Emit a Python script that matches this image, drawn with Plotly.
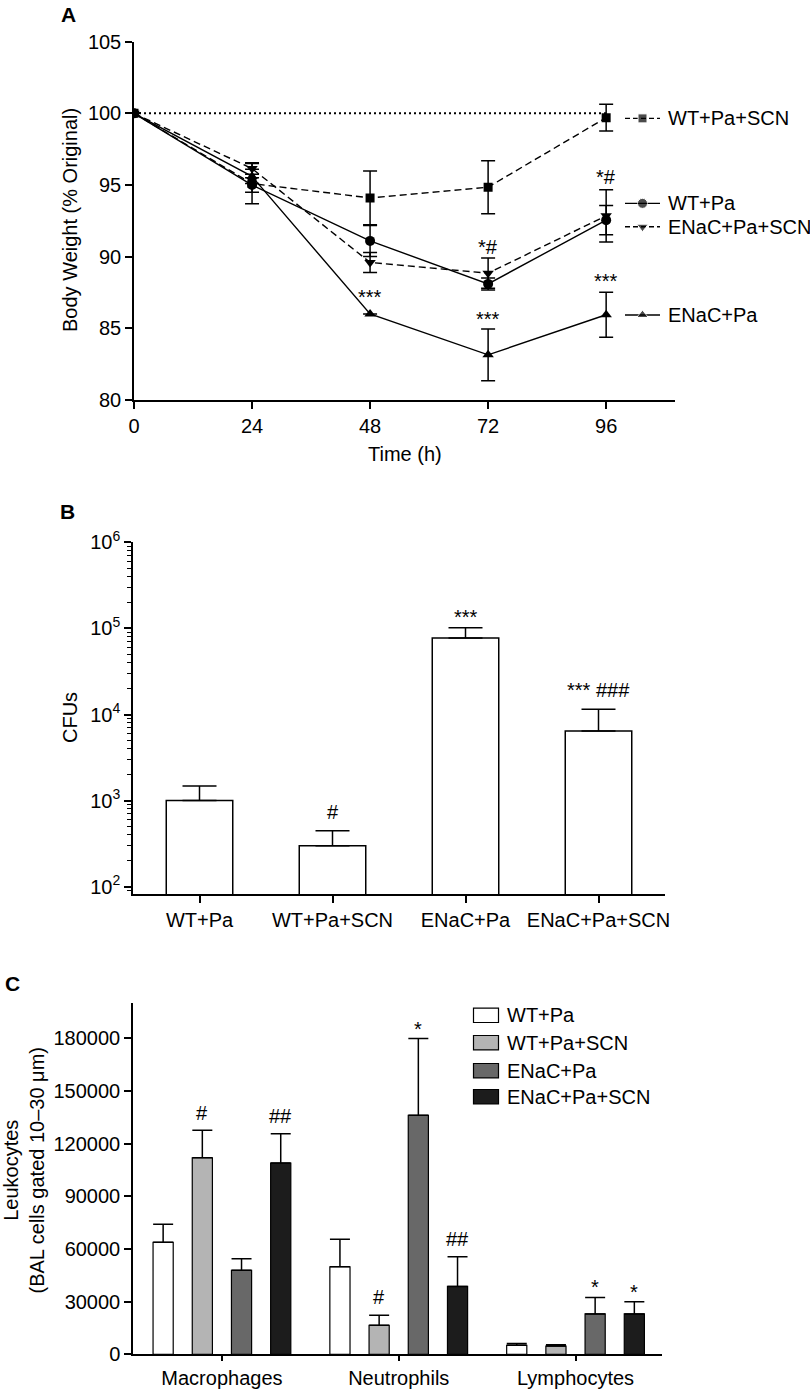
import plotly.graph_objects as go

W, H = 810, 1390
FONT = "Liberation Sans, Arial, Helvetica, sans-serif"
FS = 20

# ---------------- Panel A data ----------------
time_h = [0, 24, 48, 72, 96]
wt_pa_scn = [100, 95.1, 94.1, 94.85, 99.7]
wt_pa_scn_err = [0, 1.4, 1.87, 1.85, 0.93]
wt_pa = [100, 95.0, 91.1, 88.1, 92.55]
wt_pa_err = [0, 0.5, 1.08, 0.42, 1.02]
enac_pa_scn = [100, 96.15, 89.6, 88.85, 92.85]
enac_pa_scn_err = [0, 0.4, 0.7, 1.05, 1.82]
enac_pa = [100, 95.6, 86.0, 83.15, 85.95]
enac_pa_err = [0, 0.5, 0, 1.8, 1.57]
baseline_x = [0, 96]
baseline_y = [100, 100]
a_ticks = [0, 24, 48, 72, 96]
a_yticks = [80, 85, 90, 95, 100, 105]
a_sig_x = [48, 72, 72, 96, 96]
a_sig_y = [87.44, 90.69, 85.93, 95.58, 88.6]
a_sig_text = ["***", "*#", "***", "*#", "***"]
a_names = ["WT+Pa+SCN", "WT+Pa", "ENaC+Pa+SCN", "ENaC+Pa"]
a_key_y = [99.65, 93.72, 92.09, 85.93]

# ---------------- Panel B data ----------------
b_groups = ["WT+Pa", "WT+Pa+SCN", "ENaC+Pa", "ENaC+Pa+SCN"]
b_cfu = [1000, 299, 77300, 6420]
b_cfu_top = [1480, 447, 101900, 11480]
b_sig = ["", "#", "***", "*** ###"]
b_sig_log = [None, 2.871, 5.175, 4.284]

# ---------------- Panel C data ----------------
c_cells = ["Macrophages", "Neutrophils", "Lymphocytes"]
c_series = ["WT+Pa", "WT+Pa+SCN", "ENaC+Pa", "ENaC+Pa+SCN"]
c_vals = [
    [63800, 49900, 5100],
    [112000, 16500, 4700],
    [47900, 136200, 23000],
    [109000, 38700, 23000],
]
c_err = [
    [10300, 15600, 1000],
    [15600, 5700, 800],
    [6600, 43800, 9300],
    [16700, 16900, 7000],
]
c_colors = ["#ffffff", "#b4b4b4", "#686868", "#1c1c1c"]
c_sig = [
    ["", "", ""],
    ["#", "#", ""],
    ["", "*", "*"],
    ["##", "##", "*"],
]
c_sig_y = [
    [None, None, None],
    [137300, 32500, None],
    [None, 187600, 40400],
    [135700, 65500, 37600],
]
c_yticks = [0, 30000, 60000, 90000, 120000, 150000, 180000]


def px_x(p):
    return p / W


def px_y(p):
    return 1 - p / H


fig = go.Figure()

# ---- Panel A traces ----
fig.add_trace(go.Scatter(x=baseline_x, y=baseline_y, mode="lines",
                         line=dict(color="black", width=2, dash="2px,3px"),
                         xaxis="x", yaxis="y", showlegend=False, hoverinfo="skip"))

DASH = "7px,4px"
a_series = [
    (wt_pa_scn, wt_pa_scn_err, "square", 9, DASH),
    (wt_pa, wt_pa_err, "circle", 10, "solid"),
    (enac_pa_scn, enac_pa_scn_err, "triangle-down", 10, DASH),
    (enac_pa, enac_pa_err, "triangle-up", 10, "solid"),
]
for (vals, errs, sym, sz, dash), name in zip(a_series, a_names):
    fig.add_trace(go.Scatter(
        x=time_h, y=vals, mode="lines+markers", name=name,
        line=dict(color="black", width=1.4, dash=dash),
        marker=dict(symbol=sym, size=sz, color="black"),
        error_y=dict(type="data", array=errs, visible=True, color="black",
                     thickness=1.5, width=7),
        xaxis="x", yaxis="y", showlegend=False))

# legend keys for panel A (overlay axis in pixel units)
key_x0, key_x1 = 625, 660
for (vals, errs, sym, sz, dash), ky in zip(a_series, a_key_y):
    fig.add_trace(go.Scatter(
        x=[key_x0, (key_x0 + key_x1) / 2, key_x1], y=[ky, ky, ky],
        mode="lines+markers",
        line=dict(color="black", width=1.4, dash=("5px,3px" if dash != "solid" else "solid")),
        marker=dict(symbol=sym, size=[0, sz, 0], color="black"),
        xaxis="x4", yaxis="y", showlegend=False, hoverinfo="skip"))

# ---- Panel B ----
fig.add_trace(go.Bar(
    x=b_groups, y=b_cfu, width=0.5,
    marker=dict(color="white", line=dict(color="black", width=1.5)),
    error_y=dict(type="data", symmetric=False,
                 array=[t - v for t, v in zip(b_cfu_top, b_cfu)],
                 arrayminus=[0] * len(b_cfu), color="black", thickness=1.5, width=17),
    xaxis="x2", yaxis="y2", showlegend=False))

# ---- Panel C ----
slot = 0.2217
bw = 0.114
for i, (name, vals, errs, col) in enumerate(zip(c_series, c_vals, c_err, c_colors)):
    off = (i - 1.5) * slot - bw / 2
    fig.add_trace(go.Bar(
        x=c_cells, y=vals, width=bw, offset=off, name=name,
        marker=dict(color=col, line=dict(color="black", width=1.2)),
        error_y=dict(type="data", symmetric=False, array=errs,
                     arrayminus=[0] * len(vals), color="black", thickness=1.5, width=10),
        xaxis="x3", yaxis="y3", showlegend=False))

ann = []
shapes = []


def txt(x, y, text, xref="paper", yref="paper", size=FS, xanchor="center", yanchor="middle", **kw):
    d = dict(x=x, y=y, xref=xref, yref=yref, text=text, showarrow=False,
             xanchor=xanchor, yanchor=yanchor,
             font=dict(family=FONT, size=size, color="black"))
    d.update(kw)
    ann.append(d)


# panel letters
txt(px_x(68), px_y(14.5), "<b>A</b>", size=21)
txt(px_x(67), px_y(511), "<b>B</b>", size=21)
txt(px_x(12), px_y(983.5), "<b>C</b>", size=21)

# axis titles
txt(px_x(70), px_y(220), "Body Weight (% Original)", textangle=-90)
txt(px_x(404.5), px_y(454), "Time (h)")
txt(px_x(70), px_y(718), "CFUs", textangle=-90)
txt(px_x(23.5), px_y(1171), "Leukocytes<br>(BAL cells gated 10\u201330 \u03bcm)", textangle=-90)

# panel A significance
for x, y, t in zip(a_sig_x, a_sig_y, a_sig_text):
    txt(x, y, t, xref="x", yref="y", yshift=(-4 if t == "***" else 0))

# panel A legend labels
for name, ky in zip(a_names, a_key_y):
    txt(px_x(666), ky, name, yref="y", xanchor="left")

# panel B significance
for i, (t, ly) in enumerate(zip(b_sig, b_sig_log)):
    if t:
        txt(i, ly, t, xref="x2", yref="y2", yshift=(-4 if t == "***" else 0))

# panel C significance
for i in range(4):
    for g in range(3):
        t = c_sig[i][g]
        if t:
            txt(g + (i - 1.5) * slot, c_sig_y[i][g], t, xref="x3", yref="y3",
                yshift=(-4 if t == "*" else 0))

# panel C legend
leg_rows = [1015.3, 1042.7, 1070.7, 1096.7]
for name, col, ry in zip(c_series, c_colors, leg_rows):
    shapes.append(dict(type="rect", xref="paper", yref="paper",
                       x0=px_x(473.5), x1=px_x(498.5), y0=px_y(ry + 7.2), y1=px_y(ry - 7.2),
                       fillcolor=col, line=dict(color="black", width=1.2)))
    txt(px_x(505), px_y(ry), name, xanchor="left")

axis_common = dict(showline=True, linecolor="black", linewidth=1.5, showgrid=False,
                   zeroline=False, ticks="outside", tickcolor="black", tickwidth=1.5,
                   ticklen=7, tickfont=dict(family=FONT, size=FS, color="black"))
c_xaxis = dict(axis_common)
c_xaxis["ticklen"] = 5

fig.update_layout(
    width=W, height=H, margin=dict(l=0, r=0, t=0, b=0, autoexpand=False),
    paper_bgcolor="white", plot_bgcolor="rgba(0,0,0,0)",
    font=dict(family=FONT, size=FS, color="black"),
    showlegend=False,
    xaxis=dict(domain=[px_x(134), px_x(675)], range=[0, 110], anchor="y",
               tickvals=a_ticks, **axis_common),
    yaxis=dict(domain=[px_y(400), px_y(41.7)], range=[80, 105], anchor="x",
               tickvals=a_yticks, **axis_common),
    xaxis4=dict(overlaying="x", range=[134, 675], visible=False, anchor="y"),
    xaxis2=dict(domain=[px_x(133), px_x(665)], range=[-0.5, 3.5], anchor="y2",
                type="category", **axis_common),
    yaxis2=dict(domain=[px_y(894.3), px_y(542.3)], type="log", range=[1.912, 6], anchor="x2",
                tickvals=[1e2, 1e3, 1e4, 1e5, 1e6],
                ticktext=["10<sup>2</sup>", "10<sup>3</sup>", "10<sup>4</sup>",
                          "10<sup>5</sup>", "10<sup>6</sup>"],
                minor=dict(tickvals=[90] + [k * 10 ** n for n in range(2, 6) for k in range(2, 10)],
                           ticks="outside", ticklen=4, tickcolor="black", tickwidth=1),
                **axis_common),
    xaxis3=dict(domain=[px_x(133), px_x(662)], range=[-0.503, 2.489], anchor="y3",
                type="category", **c_xaxis),
    yaxis3=dict(domain=[px_y(1354.3), px_y(1003.3)], range=[0, 200000], anchor="x3",
                tickvals=c_yticks, ticktext=[str(v) for v in c_yticks], **axis_common),
    annotations=ann, shapes=shapes,
)

fig.write_html("out.html", config={"displayModeBar": False},
               post_script="document.documentElement.style.margin='0';"
                           "document.body.style.margin='0';document.body.style.padding='0';"
                           "document.body.style.overflow='hidden';")
